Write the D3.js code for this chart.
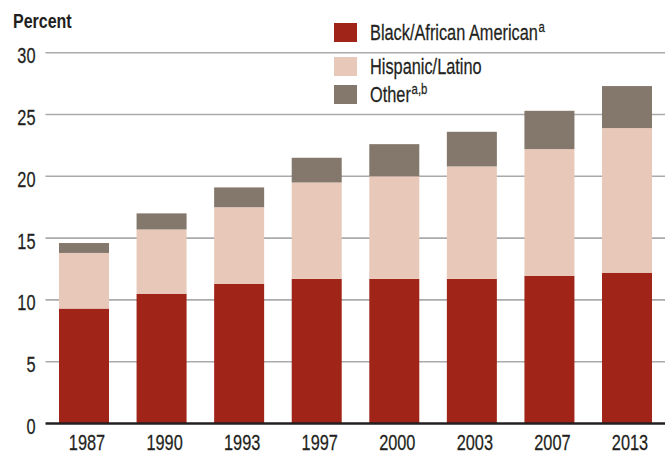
<!DOCTYPE html>
<html><head><meta charset="utf-8">
<script src="https://cdn.jsdelivr.net/npm/d3@7"></script>
<style>
body{margin:0;background:#fff;}
text{font-family:"Liberation Sans",Arial,sans-serif;fill:#231f20;}
text.w{stroke:#231f20;stroke-width:0.25px;}
</style></head>
<body><svg id="c" width="665" height="454"></svg>
<script>
const years = ["1987","1990","1993","1997","2000","2003","2007","2013"];
const black = [9.3, 10.5, 11.3, 11.7, 11.7, 11.7, 11.95, 12.2];
const hispanic = [4.5, 5.2, 6.2, 7.8, 8.3, 9.1, 10.25, 11.7];
const other = [0.8, 1.3, 1.6, 2.0, 2.6, 2.8, 3.1, 3.4];
const yTicks = [0,5,10,15,20,25,30];
const seriesNames = ["Black/African American","Hispanic/Latino","Other"];
const seriesSup = ["a","","a,b"];
const colors = ["#a02518","#e8c8b8","#84776b"];

const SX = 0.76;
const FS = 21.5;
const svg = d3.select("#c");
const x = d3.scaleBand().domain(years).range([45.5,665.5]).paddingInner(0.3554).paddingOuter(0.174);
const y = d3.scaleLinear().domain([0,30]).range([423.5,52.7]);

// gridlines
svg.append("g").selectAll("line").data(yTicks.filter(d=>d>0)).join("line")
  .attr("x1",45.5).attr("x2",665).attr("y1",d=>y(d)).attr("y2",d=>y(d))
  .attr("stroke","#aaaaac").attr("stroke-width",1.6);

// y tick labels
svg.append("g").selectAll("text").data(yTicks).join("text").attr("class","w")
  .attr("transform",d=>`translate(35.5,${y(d)+10.5}) scale(${SX},1)`)
  .attr("text-anchor","end").attr("font-size",FS).text(d=>d);

// stacked bars
const rows = years.map((yr,i)=>({year:yr, b:black[i], h:hispanic[i], o:other[i]}));
const stack = d3.stack().keys(["b","h","o"])(rows);
svg.append("g").selectAll("g").data(stack).join("g")
  .attr("fill",(d,i)=>colors[i])
  .selectAll("rect").data(d=>d).join("rect")
  .attr("x",d=>x(d.data.year)).attr("width",x.bandwidth())
  .attr("y",d=>y(d[1])).attr("height",d=>y(d[0])-y(d[1]));

// baseline axis
svg.append("line").attr("x1",45.5).attr("x2",665).attr("y1",y(0)).attr("y2",y(0))
  .attr("stroke","#231f20").attr("stroke-width",2.6);

// x labels
svg.append("g").selectAll("text").data(years).join("text").attr("class","w")
  .attr("transform",d=>`translate(${x(d)+x.bandwidth()/2+3},449.5) scale(${SX},1)`)
  .attr("text-anchor","middle").attr("font-size",FS).text(d=>d);

// y title
svg.append("text").attr("transform","translate(13,27.5) scale(0.8,1)")
  .attr("font-size",20).attr("font-weight","bold").text("Percent");

// legend
const ly = [23, 57, 85];
const lg = svg.append("g").selectAll("g").data(seriesNames).join("g")
  .attr("transform",(d,i)=>`translate(334,${ly[i]})`);
lg.append("rect").attr("width",23).attr("height",19).attr("fill",(d,i)=>colors[i]);
const lt = lg.append("text").attr("class","w").attr("transform",`translate(36,16.5) scale(${SX},1)`).attr("font-size",FS);
lt.append("tspan").text(d=>d);
lt.append("tspan").attr("dy",-8).attr("dx",1).attr("font-size",15).text((d,i)=>seriesSup[i]);
</script></body></html>
